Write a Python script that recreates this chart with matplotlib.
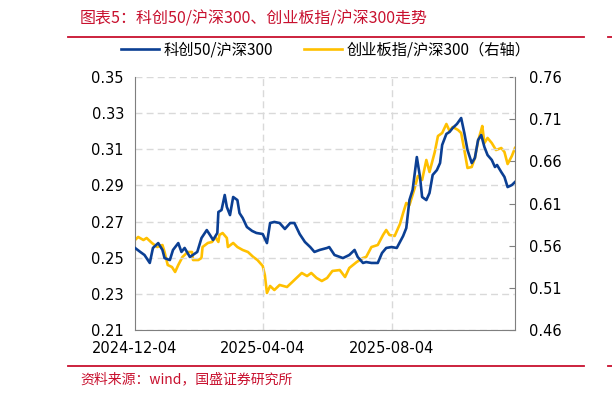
import matplotlib
matplotlib.use("Agg")
import matplotlib.pyplot as plt
import matplotlib.dates as mdates
from matplotlib.lines import Line2D
import pandas as pd

plt.rcParams['font.family'] = ['Noto Sans CJK SC', 'DejaVu Sans']

title = "图表5：科创50/沪深300、创业板指/沪深300走势"
source = "资料来源：wind，国盛证券研究所"
label_kc = "科创50/沪深300"
label_cy = "创业板指/沪深300（右轴）"

kc_dates = ["2024-12-04", "2024-12-09", "2024-12-13", "2024-12-18", "2024-12-21", "2024-12-26",
            "2024-12-30", "2025-01-01", "2025-01-06", "2025-01-09", "2025-01-14", "2025-01-17",
            "2025-01-20", "2025-01-25", "2025-02-01", "2025-02-05", "2025-02-10", "2025-02-13",
            "2025-02-16", "2025-02-20", "2025-02-21", "2025-02-24", "2025-02-27", "2025-03-01",
            "2025-03-04", "2025-03-07", "2025-03-11", "2025-03-13", "2025-03-16", "2025-03-20",
            "2025-03-25", "2025-03-29", "2025-04-04", "2025-04-08", "2025-04-11", "2025-04-15",
            "2025-04-20", "2025-04-25", "2025-04-30", "2025-05-04", "2025-05-09", "2025-05-14",
            "2025-05-19", "2025-05-23", "2025-05-28", "2025-06-04", "2025-06-06", "2025-06-11",
            "2025-06-19", "2025-06-25", "2025-06-30", "2025-07-03", "2025-07-08", "2025-07-11",
            "2025-07-16", "2025-07-22", "2025-07-26", "2025-07-30", "2025-08-04", "2025-08-09",
            "2025-08-15", "2025-08-18", "2025-08-21", "2025-08-24", "2025-08-28", "2025-08-31",
            "2025-09-02", "2025-09-06", "2025-09-09", "2025-09-12", "2025-09-16", "2025-09-19",
            "2025-09-21", "2025-09-25", "2025-09-28", "2025-10-01", "2025-10-05", "2025-10-09",
            "2025-10-12", "2025-10-15", "2025-10-19", "2025-10-22", "2025-10-25", "2025-10-28",
            "2025-10-31", "2025-11-03", "2025-11-07", "2025-11-10", "2025-11-12", "2025-11-16",
            "2025-11-19", "2025-11-22", "2025-11-26", "2025-11-29"]
kc_values = [0.2554, 0.2532, 0.2515, 0.2471, 0.2554, 0.2581,
             0.2543, 0.2498, 0.2487, 0.2543, 0.2581, 0.2532,
             0.2554, 0.2504, 0.2532, 0.2609, 0.2653, 0.2626,
             0.2598, 0.2637, 0.2753, 0.2764, 0.2847, 0.2781,
             0.2736, 0.2836, 0.2819, 0.2747, 0.2720, 0.2670,
             0.2648, 0.2637, 0.2631, 0.2581, 0.2692, 0.2698,
             0.2692, 0.2659, 0.2692, 0.2692, 0.2631, 0.2587,
             0.2559, 0.2532, 0.2543, 0.2554, 0.2559, 0.2515,
             0.2498, 0.2515, 0.2543, 0.2504, 0.2471, 0.2476,
             0.2471, 0.2471, 0.2526, 0.2554, 0.2559, 0.2554,
             0.2620, 0.2664, 0.2819, 0.2875, 0.3057, 0.2947,
             0.2836, 0.2819, 0.2858, 0.2958, 0.2985, 0.3024,
             0.3124, 0.3185, 0.3196, 0.3218, 0.3240, 0.3273,
             0.3190, 0.3096, 0.3024, 0.3052, 0.3151, 0.3179,
             0.3113, 0.3068, 0.3041, 0.3002, 0.3013, 0.2974,
             0.2947, 0.2891, 0.2902, 0.2919]

cy_dates = ["2024-12-04", "2024-12-07", "2024-12-12", "2024-12-15", "2024-12-20", "2024-12-25",
            "2024-12-30", "2025-01-01", "2025-01-04", "2025-01-08", "2025-01-11", "2025-01-14",
            "2025-01-18", "2025-01-23", "2025-01-27", "2025-01-28", "2025-02-02", "2025-02-05",
            "2025-02-06", "2025-02-11", "2025-02-15", "2025-02-18", "2025-02-21", "2025-02-22",
            "2025-02-25", "2025-03-01", "2025-03-02", "2025-03-07", "2025-03-11", "2025-03-16",
            "2025-03-21", "2025-03-26", "2025-03-30", "2025-04-04", "2025-04-06", "2025-04-08",
            "2025-04-11", "2025-04-15", "2025-04-20", "2025-04-27", "2025-05-02", "2025-05-06",
            "2025-05-11", "2025-05-16", "2025-05-20", "2025-05-25", "2025-05-30", "2025-06-04",
            "2025-06-09", "2025-06-16", "2025-06-21", "2025-06-25", "2025-07-02", "2025-07-08",
            "2025-07-11", "2025-07-16", "2025-07-22", "2025-07-27", "2025-07-30", "2025-08-02",
            "2025-08-07", "2025-08-12", "2025-08-15", "2025-08-18", "2025-08-21", "2025-08-26",
            "2025-08-29", "2025-09-02", "2025-09-06", "2025-09-09", "2025-09-14", "2025-09-17",
            "2025-09-21", "2025-09-25", "2025-09-28", "2025-10-01", "2025-10-06", "2025-10-09",
            "2025-10-12", "2025-10-15", "2025-10-19", "2025-10-22", "2025-10-25", "2025-10-28",
            "2025-10-29", "2025-10-31", "2025-11-03", "2025-11-07", "2025-11-11", "2025-11-16",
            "2025-11-19", "2025-11-22", "2025-11-26", "2025-11-29"]
cy_values = [0.5667, 0.5703, 0.5667, 0.5691, 0.5632, 0.5584,
             0.5608, 0.5525, 0.5371, 0.5347, 0.5288, 0.5371,
             0.5466, 0.5525, 0.5525, 0.5430, 0.5430, 0.5454,
             0.5584, 0.5632, 0.5644, 0.5703, 0.5644, 0.5727,
             0.5750, 0.5691, 0.5584, 0.5632, 0.5584, 0.5549,
             0.5525, 0.5466, 0.5430, 0.5359, 0.5252, 0.5039,
             0.5122, 0.5074, 0.5134, 0.5110, 0.5169, 0.5217,
             0.5276, 0.5240, 0.5276, 0.5217, 0.5181, 0.5217,
             0.5300, 0.5311, 0.5228, 0.5335, 0.5406, 0.5454,
             0.5466, 0.5584, 0.5608, 0.5727, 0.5786, 0.5727,
             0.5715, 0.5857, 0.5987, 0.6106, 0.6082, 0.6284,
             0.6426, 0.6379, 0.6616, 0.6474, 0.6711, 0.6900,
             0.6936, 0.7043, 0.6960, 0.7007, 0.6972, 0.6936,
             0.6734, 0.6521, 0.6533, 0.6640, 0.6841, 0.6972,
             0.7019, 0.6817, 0.6877, 0.6817, 0.6734, 0.6758,
             0.6711, 0.6568, 0.6663, 0.6758]

x_ticks = ["2024-12-04", "2025-04-04", "2025-08-04"]
left_ticks = [0.21, 0.23, 0.25, 0.27, 0.29, 0.31, 0.33, 0.35]
right_ticks = [0.46, 0.51, 0.56, 0.61, 0.66, 0.71, 0.76]

BLUE = "#0B3F93"
YELLOW = "#FFC000"
RED = "#C8102E"
SPINE = "#7F7F7F"
GRID = "#D9D9D9"

fig = plt.figure(figsize=(6.12, 3.97), dpi=100)
ax = fig.add_axes([135 / 612, 67 / 397, 380 / 612, 253 / 397])
ax2 = ax.twinx()

kd = pd.to_datetime(kc_dates)
cd = pd.to_datetime(cy_dates)
l1, = ax.plot(kd, kc_values, color=BLUE, lw=1.9, label=label_kc, zorder=3)
l2, = ax2.plot(cd, cy_values, color=YELLOW, lw=1.9, label=label_cy, zorder=2)
ax.set_zorder(ax2.get_zorder() + 1)
ax.patch.set_visible(False)

ax.set_xlim(pd.Timestamp("2024-12-04"), pd.Timestamp("2025-11-29"))
ax.set_ylim(0.21, 0.35)
ax2.set_ylim(0.46, 0.76)
ax.set_yticks(left_ticks)
ax.set_yticklabels([f"{v:.2f}" for v in left_ticks])
ax2.set_yticks(right_ticks)
ax2.set_yticklabels([f"{v:.2f}" for v in right_ticks])
ax.set_xticks(pd.to_datetime(x_ticks))
ax.set_xticklabels(x_ticks)

for a in (ax, ax2):
    for s in a.spines.values():
        s.set_visible(False)
ax.spines['left'].set_visible(True)
ax.spines['left'].set_color(SPINE)
ax.spines['bottom'].set_visible(True)
ax.spines['bottom'].set_color(SPINE)
ax2.spines['right'].set_visible(True)
ax2.spines['right'].set_color(SPINE)

ax.tick_params(axis='y', length=0, labelsize=10.5, pad=8, colors='black')
ax.tick_params(axis='x', length=0, labelsize=10.5, pad=8, colors='black')
ax2.tick_params(axis='y', direction='in', length=4, color=SPINE, labelsize=10.5, pad=10)
for lab in ax.get_xticklabels() + ax.get_yticklabels() + ax2.get_yticklabels():
    lab.set_fontfamily(['DejaVu Sans'])

# grid
ax.yaxis.grid(True, color=GRID, linestyle=(0, (5, 3)), lw=1.0)
ax.xaxis.grid(True, color=GRID, linestyle=(0, (5, 3)), lw=1.0)
ax.set_axisbelow(True)
gl = ax.get_xgridlines()
if gl:
    gl[0].set_visible(False)

# legend
fig.legend(handles=[l1, l2], loc='center', bbox_to_anchor=(326 / 612, 1 - 50 / 397),
           ncol=2, frameon=False, fontsize=11, handlelength=2.5, columnspacing=2.0,
           handletextpad=0.3)

# title and source
fig.text(80 / 612, 1 - 19 / 397, title, color=RED, fontsize=11.5, style='italic',
         ha='left', va='center')
fig.text(80 / 612, 1 - 379 / 397, source, color=RED, fontsize=10, style='italic',
         ha='left', va='center')

for yy in (1 - 37 / 397, 1 - 366 / 397):
    fig.add_artist(Line2D([68 / 612, 584 / 612], [yy, yy], color=RED, lw=1.3))
    fig.add_artist(Line2D([608 / 612, 1.0], [yy, yy], color=RED, lw=1.3))

fig.savefig("out.png", dpi=100)
